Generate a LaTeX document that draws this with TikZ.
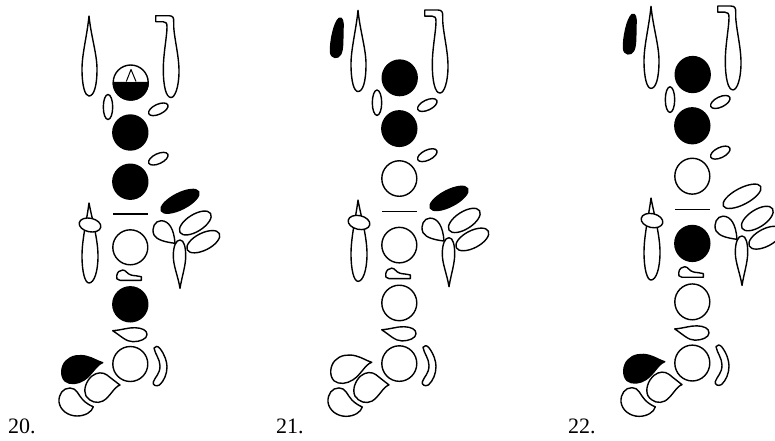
\documentclass[tikz,border=0pt]{standalone}
\usepackage{fontspec}
\setmainfont{Liberation Serif}

\tikzset{
    keyopen/.style={draw=black, fill=white, line width=1.4pt, line join=round},
    keyshut/.style={draw=black, fill=black, line width=1.4pt, line join=round},
    keynone/.style={draw=none, fill=none},
    chartnum/.style={font=\fontsize{22}{22}\selectfont, anchor=base west, inner sep=0pt}
}

% One chart, origin on the middle of the short bar
\newcommand{\fingerchart}{
% Long top keys
\path[keyopen] (-41,-198) .. controls (-43,-178) and (-48,-160) .. (-48,-145) .. controls (-48,-128) and (-45,-118) .. (-41,-118) .. controls (-36,-118) and (-33,-128) .. (-33,-145) .. controls (-33,-160) and (-39,-178) .. cycle;
\path[keyopen] (25.7,-198.3) -- (39,-198.3) .. controls (43,-198.3) and (44,-196) .. (43.7,-192) .. controls (43,-180) and (49,-160) .. (49,-143) .. controls (49,-127) and (45,-116.5) .. (41,-116.5) .. controls (36,-116.5) and (33.3,-128) .. (33.3,-145) .. controls (33.3,-160) and (37,-178) .. (37,-187) .. controls (37,-191) and (36,-192.3) .. (33,-192.3) -- (25.7,-192.3) -- cycle;
\path[keythumb] (-60,-190) .. controls (-56.5,-191.5) and (-55.5,-187) .. (-56,-180) .. controls (-56.5,-170) and (-55.5,-160) .. (-58.5,-154.5) .. controls (-61,-150) and (-68,-150.5) .. (-68.5,-157) .. controls (-69,-167) and (-65,-186) .. cycle;
% Holes down the middle
\path[holeone] (0.7,-131.5) circle[radius=17.5];
\path[keyshut] (0.3,-81.5) circle[radius=17.5];
\path[holethree] (0.3,-32.3) circle[radius=17.5];
\path[holefour] (0.3,33.3) circle[radius=17.5];
\path[holefive] (0.3,90.3) circle[radius=17.5];
\path[keyopen] (0.3,150) circle[radius=17.5];
\draw[line width=1.4pt] (-16.7,0) -- (17.7,0);
% Small ovals
\path[keyopen] (-22,-107) ellipse[x radius=4.7, y radius=12.5];
\path[keyopen] (28.3,-104.7) ellipse[x radius=10.5, y radius=5, rotate=25];
\path[keyopen] (28.3,-55.3) ellipse[x radius=10.5, y radius=5, rotate=25];
\path[keybig] (50,-12.7) ellipse[x radius=21, y radius=8, rotate=27];
% Right cluster
\path[keyopen] (65.3,9) ellipse[x radius=18, y radius=8.5, rotate=32];
\path[keyopen] (73.3,27.7) ellipse[x radius=18, y radius=8.5, rotate=27];
\path[keyopen] (45,29.3) .. controls (35,28) and (27,26) .. (24,21) .. controls (21,14) and (25,6.7) .. (31,6.7) .. controls (39,6.7) and (44,15) .. cycle;
\path[keyopen] (50,74.3) .. controls (48,62) and (43.3,52) .. (43.3,42) .. controls (43.3,32) and (46,26) .. (50,26) .. controls (54,26) and (55.7,33) .. (55.7,42) .. controls (55.7,52) and (52,62) .. cycle;
% Left key with its oval on top
\path[keyopen] (-41,-11) .. controls (-43,5) and (-48,25) .. (-48,42) .. controls (-48,58) and (-45,69) .. (-41,69) .. controls (-36,69) and (-32,58) .. (-32,42) .. controls (-32,25) and (-38,5) .. cycle;
\path[keyopen] (-40,11) ellipse[x radius=11, y radius=6.8, rotate=-12];
% Lower small keys
\path[keyopen] (-13.3,62) .. controls (-13,58) and (-10,56) .. (-7.3,56) .. controls (-4,56) and (-3,60) .. (1,61) .. controls (4,62) and (8,61.5) .. (11.3,62.7) -- (11.3,66.3) -- (-10,66.3) .. controls (-13,66.3) and (-14,64) .. cycle;
\path[keyopen] (-17.3,116.7) .. controls (-8,116) and (-2,113.5) .. (5,113.7) .. controls (12,114) and (17,116) .. (17,120.5) .. controls (17,125) and (10,127.7) .. (3,127.7) .. controls (-4,127.7) and (-9,122) .. cycle;
\path[keyopen] (24,134) .. controls (25,131.5) and (28,132) .. (30,134.5) .. controls (35,141) and (37,148) .. (37,153) .. controls (37,160) and (34,167) .. (29.5,171) .. controls (26,173) and (22.5,171) .. (23.3,168) .. controls (25,163) and (30,160) .. (30,152) .. controls (30,145) and (25,140) .. cycle;
% Petals at the foot
\path[keypetal] (-27.3,148.7) .. controls (-34,151) and (-38,161) .. (-46,166) .. controls (-52,170) and (-60,171) .. (-65,167) .. controls (-70,162) and (-69,152) .. (-64,147) .. controls (-59,141.5) and (-50,140.5) .. (-43,142.5) .. controls (-37,144) and (-33,147) .. cycle;
\path[keyopen] (-10,171) .. controls (-16,173) and (-20,183) .. (-27,187) .. controls (-33,190) and (-40,188) .. (-44,182) .. controls (-47,176) and (-44,167) .. (-38,162) .. controls (-33,158) and (-27,158) .. (-23,161) .. controls (-18,165) and (-14,168) .. cycle;
\path[keyopen] (-36.7,192.7) .. controls (-38,198) and (-45,202) .. (-53,202) .. controls (-62,202) and (-70,196) .. (-71,188) .. controls (-71.5,180) and (-67,174) .. (-60,174) .. controls (-53,174) and (-52,181) .. (-47,186) .. controls (-44,189) and (-40,191.5) .. cycle;
}

\begin{document}
\begin{tikzpicture}[x=1pt, y=-1pt]
\useasboundingbox (0,0) rectangle (775,440);
% Chart 20
\begin{scope}[shift={(130,214)}, keythumb/.style=keynone, holeone/.style=keyopen, holethree/.style=keyshut, holefour/.style=keyopen, holefive/.style=keyshut, keybig/.style=keyshut, keypetal/.style=keyshut]
\fingerchart
\path[keyshut] (-16.8,-131.5) arc[start angle=180, end angle=360, x radius=17.5, y radius=-17.5] -- cycle;
\path[keyopen, line width=1pt] (-3.7,-132.5) -- (1,-144.5) -- (6,-132.5);
\end{scope}
% Chart 21
\begin{scope}[shift={(399,211.3)}, yscale=1.015, keythumb/.style=keyshut, holeone/.style=keyshut, holethree/.style=keyopen, holefour/.style=keyopen, holefive/.style=keyopen, keybig/.style=keyshut, keypetal/.style=keyopen]
\fingerchart
\end{scope}
% Chart 22
\begin{scope}[shift={(692,209.3)}, yscale=1.025, keythumb/.style=keyshut, holeone/.style=keyshut, holethree/.style=keyopen, holefour/.style=keyshut, holefive/.style=keyopen, keybig/.style=keyopen, keypetal/.style=keyshut]
\fingerchart
\end{scope}
% Numbers
\node[chartnum] (num20) at (8,433) {20.};
\node[chartnum] (num21) at (276,433) {21.};
\node[chartnum] (num22) at (568,433) {22.};
\end{tikzpicture}
\end{document}
